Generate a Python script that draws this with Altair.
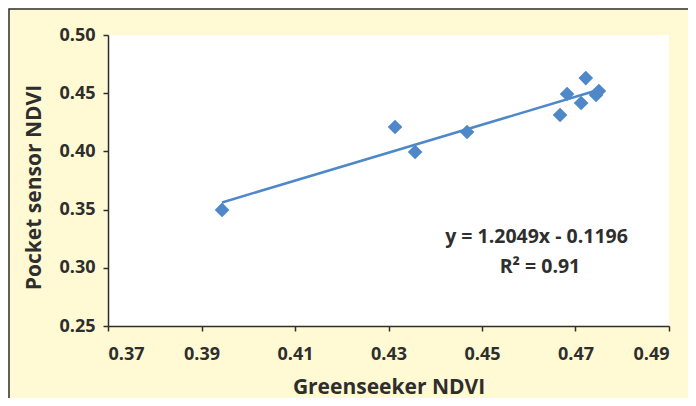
import altair as alt
import pandas as pd

greenseeker = [0.3944, 0.4314, 0.4357, 0.4468, 0.4667, 0.4682, 0.4712, 0.4722, 0.4744, 0.4750]
pocket = [0.3497, 0.4210, 0.3995, 0.4167, 0.4313, 0.4493, 0.4416, 0.4630, 0.4485, 0.4519]
x_ticks = [0.37, 0.39, 0.41, 0.43, 0.45, 0.47, 0.49]
y_ticks = [0.25, 0.30, 0.35, 0.40, 0.45, 0.50]
equation_lines = ["y = 1.2049x - 0.1196", "R\u00b2 = 0.91"]

W, H = 561, 291
FONT = "Open Sans"
TXT = "#2e2e2e"
BLUE = "#4F88C8"

df = pd.DataFrame({"greenseeker": greenseeker, "pocket": pocket})

x_enc = alt.X("greenseeker:Q", title="Greenseeker NDVI",
              scale=alt.Scale(domain=[0.37, 0.49], nice=False, zero=False),
              axis=alt.Axis(values=x_ticks, format=".2f", grid=False,
                            tickSize=5, labelPadding=14, titlePadding=13,
                            labelFontSize=18, titleFontSize=21))
y_enc = alt.Y("pocket:Q", title="Pocket sensor NDVI",
              scale=alt.Scale(domain=[0.25, 0.50], nice=False, zero=False),
              axis=alt.Axis(values=y_ticks, format=".2f", grid=False,
                            tickSize=5, labelPadding=8, titlePadding=14,
                            labelFontSize=18, titleFontSize=21, titleY=152))

border = alt.Chart(pd.DataFrame({"k": [0]})).mark_rect(
    fill="#FFFAD3", fillOpacity=0, stroke="#2e2e2e", strokeWidth=1.5
).encode(x=alt.value(-99), x2=alt.value(W + 60), y=alt.value(-26), y2=alt.value(H + 100))

points = alt.Chart(df).mark_point(
    shape="diamond", filled=True, size=215, color=BLUE, opacity=1
).encode(x=x_enc, y=y_enc)

trend = alt.Chart(df).mark_line(color=BLUE, strokeWidth=2.5).transform_regression(
    "greenseeker", "pocket"
).encode(x="greenseeker:Q", y="pocket:Q")

eq1 = alt.Chart(pd.DataFrame({"t": [equation_lines[0]]})).mark_text(
    font=FONT, fontSize=19.5, fontWeight="bold", color=TXT, align="center", baseline="alphabetic"
).encode(text="t:N", x=alt.value(428.5), y=alt.value(208))
eq2 = alt.Chart(pd.DataFrame({"t": [equation_lines[1]]})).mark_text(
    font=FONT, fontSize=19.5, fontWeight="bold", color=TXT, align="center", baseline="alphabetic"
).encode(text="t:N", x=alt.value(432), y=alt.value(238))

chart = alt.layer(border, trend, points, eq1, eq2).properties(
    width=W, height=H,
    autosize=alt.AutoSizeParams(type="none"),
    padding={"left": 100, "top": 27, "right": 680 - 100 - W, "bottom": 390 - 27 - H},
    background="#FFFAD3",
).configure_view(fill="white", stroke=None).configure_axis(
    domainColor=TXT, domainWidth=1.5, tickColor=TXT, tickWidth=1.5,
    labelFont=FONT, labelFontWeight="bold", labelColor=TXT,
    titleFont=FONT, titleFontWeight="bold", titleColor=TXT,
)

chart.save("out.html", embed_options={"renderer": "svg", "actions": False})
